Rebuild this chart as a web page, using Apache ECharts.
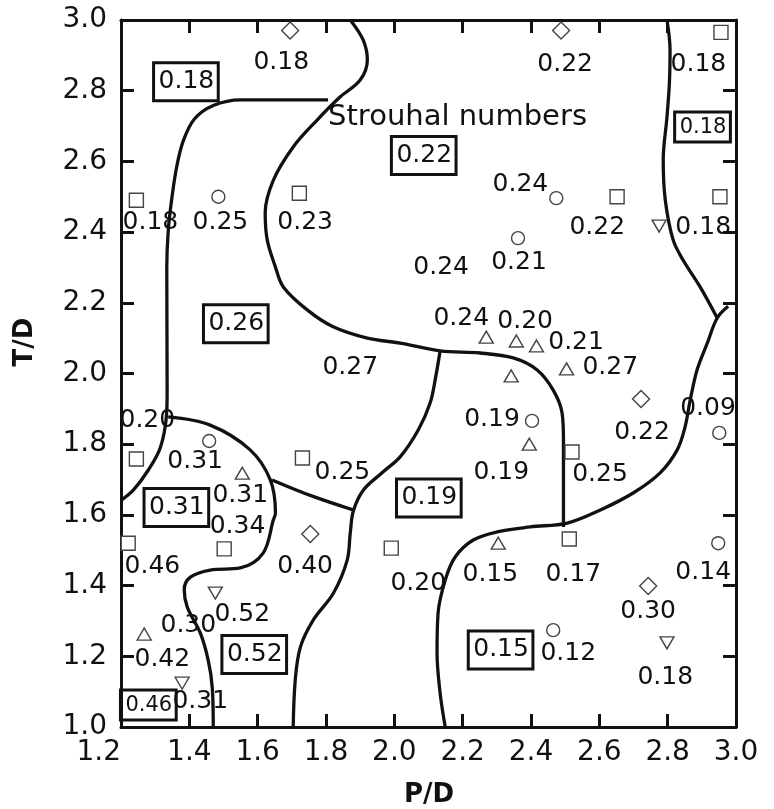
<!DOCTYPE html>
<html>
<head>
<meta charset="utf-8">
<script src="https://cdn.jsdelivr.net/npm/echarts@6/dist/echarts.min.js"></script>
<style>
  html, body { margin: 0; padding: 0; background: #fff; }
  #chart { width: 774px; height: 809px; }
</style>
</head>
<body>
<div id="chart"></div>
<script>
// Measured cylinder positions (P/D, T/D), grouped by marker shape
const squarePts = [[2.956,2.965],[1.245,2.49],[1.722,2.51],[2.652,2.50],[2.953,2.50],[2.520,1.778],[1.245,1.758],[1.731,1.761],[1.221,1.52],[1.502,1.504],[1.991,1.506],[2.512,1.532]];
const circlePts = [[1.485,2.50],[2.474,2.496],[2.362,2.383],[2.403,1.866],[2.951,1.832],[1.458,1.809],[2.948,1.52],[2.465,1.274]];
const trianglePts = [[2.269,2.103],[2.357,2.092],[2.416,2.078],[2.504,2.013],[2.342,1.993],[2.395,1.80],[1.555,1.718],[1.268,1.263],[2.304,1.52]];
const invTrianglePts = [[2.775,2.417],[1.476,1.379],[1.379,1.124],[2.798,1.238]];
const diamondPts = [[1.695,2.97],[2.488,2.97],[2.722,1.928],[1.754,1.546],[2.743,1.399]];

// Strouhal number written next to each measurement
const valueLabels = [
  [1.669,2.881,'0.18'],[2.500,2.873,'0.22'],[2.890,2.873,'0.18'],
  [1.286,2.426,'0.18'],[1.491,2.426,'0.25'],[1.739,2.426,'0.23'],
  [2.369,2.536,'0.24'],[2.594,2.414,'0.22'],[2.904,2.414,'0.18'],
  [2.365,2.315,'0.21'],[2.137,2.301,'0.24'],
  [2.196,2.157,'0.24'],[2.383,2.146,'0.20'],[2.532,2.089,'0.21'],[2.632,2.016,'0.27'],
  [2.286,1.871,'0.19'],[2.313,1.719,'0.19'],[2.602,1.713,'0.25'],[2.725,1.832,'0.22'],[2.918,1.900,'0.09'],
  [1.871,2.016,'0.27'],[1.277,1.868,'0.20'],[1.417,1.750,'0.31'],[1.549,1.656,'0.31'],[1.541,1.566,'0.34'],
  [1.848,1.719,'0.25'],[1.292,1.455,'0.46'],[1.739,1.453,'0.40'],[2.070,1.407,'0.20'],
  [1.555,1.317,'0.52'],[1.397,1.286,'0.30'],[1.321,1.192,'0.42'],[1.432,1.071,'0.31'],
  [2.281,1.430,'0.15'],[2.524,1.430,'0.17'],[2.904,1.436,'0.14'],[2.743,1.328,'0.30'],
  [2.509,1.209,'0.12'],[2.793,1.139,'0.18']
];

// Representative Strouhal number of each flow regime (boxed)
const zoneLabels = [
  [1.390,2.825,'0.18'],[2.086,2.617,'0.22'],[1.536,2.141,'0.26'],[1.362,1.621,'0.31'],
  [2.101,1.648,'0.19'],[1.590,1.205,'0.52'],[2.311,1.218,'0.15']
];
const zoneLabelsSmall = [[2.902,2.697,'0.18'],[1.280,1.062,'0.46']];

const noteLabel = [[2.185,2.723,'Strouhal numbers']];

// Regime boundaries
const boundaryA = [[1.806,2.774],[1.55,2.774],[1.47,2.758],[1.415,2.72],[1.383,2.66],[1.363,2.585],[1.348,2.49],[1.338,2.40],[1.334,2.30],[1.335,1.95],[1.333,1.88],[1.315,1.79],[1.28,1.727],[1.236,1.67],[1.201,1.642]];
const boundaryB = [[1.338,1.877],[1.461,1.854],[1.578,1.784],[1.637,1.699],[1.652,1.605],[1.646,1.586],[1.616,1.492],[1.549,1.450],[1.461,1.444],[1.403,1.424],[1.385,1.388],[1.394,1.339],[1.432,1.266],[1.455,1.190],[1.467,1.113],[1.470,1.0]];
const boundaryC = [[1.642,1.699],[1.760,1.653],[1.880,1.614]];
const boundaryD = [[1.871,3.0],[1.909,2.943],[1.921,2.887],[1.900,2.830],[1.841,2.782],[1.774,2.717],[1.704,2.641],[1.646,2.547],[1.622,2.454],[1.628,2.378],[1.652,2.301],[1.675,2.245],[1.745,2.180],[1.821,2.132],[1.921,2.100],[2.017,2.086],[2.134,2.064],[2.251,2.058],[2.348,2.044],[2.418,2.010],[2.465,1.953],[2.491,1.888],[2.495,1.812],[2.495,1.662],[2.495,1.566]];
const boundaryE = [[2.134,2.064],[2.121,1.99],[2.105,1.917],[2.07,1.84],[2.017,1.764],[1.965,1.72],[1.909,1.670],[1.880,1.611],[1.871,1.549],[1.862,1.472],[1.822,1.379],[1.763,1.303],[1.725,1.226],[1.710,1.133],[1.704,1.0]];
const boundaryF = [[2.798,3.0],[2.807,2.915],[2.805,2.821],[2.798,2.726],[2.787,2.604],[2.793,2.491],[2.816,2.378],[2.845,2.321],[2.895,2.245],[2.945,2.157]];
const boundaryG = [[2.977,2.19],[2.945,2.157],[2.916,2.086],[2.886,2.010],[2.866,1.925],[2.851,1.849],[2.828,1.784],[2.778,1.719],[2.699,1.662],[2.603,1.614],[2.506,1.577],[2.398,1.566],[2.301,1.552],[2.231,1.529],[2.178,1.481],[2.149,1.416],[2.128,1.322],[2.125,1.209],[2.134,1.096],[2.149,1.0]];

const FONT = 'DejaVu Sans';
const INK = '#111';
const MARK = '#444';

const chart = echarts.init(document.getElementById('chart'), null, { renderer: 'canvas' });

const axisCommon = {
  type: 'value',
  interval: 0.2,
  axisLine: { show: true, onZero: false, lineStyle: { color: INK, width: 3 } },
  axisTick: { show: true, inside: true, length: 13, lineStyle: { color: INK, width: 3 } },
  splitLine: { show: false }
};

function boundary(data) {
  return {
    type: 'line', data: data, smooth: 0.35, symbol: 'none', z: 3,
    lineStyle: { color: INK, width: 3.3 }, silent: true
  };
}

function markers(data, symbol, size, rotate) {
  return {
    type: 'scatter', data: data, symbol: symbol, symbolSize: size, symbolRotate: rotate || 0, z: 4,
    itemStyle: { color: '#fff', borderColor: MARK, borderWidth: 1.4, opacity: 1 }, silent: true
  };
}

function textSeries(data, label) {
  return {
    type: 'scatter', data: data, symbolSize: 1, z: 5, silent: true,
    itemStyle: { color: 'rgba(0,0,0,0)', opacity: 1 },
    label: Object.assign({ show: true, position: 'inside', opacity: 1, formatter: p => p.value[2] }, label)
  };
}

chart.setOption({
  animation: false,
  backgroundColor: '#fff',
  grid: { left: 121, right: 38, top: 20, bottom: 82 },
  xAxis: [
    Object.assign({}, axisCommon, {
      min: 1.2, max: 3.0, position: 'bottom',
      axisLabel: { margin: 12, color: INK, fontFamily: FONT, fontSize: 28, alignMinLabel: 'right', formatter: v => v.toFixed(1) }
    }),
    Object.assign({}, axisCommon, { min: 1.2, max: 3.0, position: 'top', axisLabel: { show: false } })
  ],
  yAxis: [
    Object.assign({}, axisCommon, {
      min: 1.0, max: 3.0, position: 'left',
      axisLabel: { margin: 14, color: INK, fontFamily: FONT, fontSize: 28, formatter: v => v.toFixed(1) }
    }),
    Object.assign({}, axisCommon, { min: 1.0, max: 3.0, position: 'right', axisLabel: { show: false } })
  ],
  graphic: [
    { type: 'text', left: 404, top: 782, style: { text: 'P/D', fontFamily: FONT, fontWeight: 'bold', fontSize: 26, fill: INK } },
    { type: 'text', x: 25, y: 342, rotation: Math.PI / 2,
      style: { text: 'T/D', fontFamily: FONT, fontWeight: 'bold', fontSize: 26, fill: INK, align: 'center', verticalAlign: 'middle' } }
  ],
  series: [
    boundary(boundaryA), boundary(boundaryB), boundary(boundaryC), boundary(boundaryD),
    boundary(boundaryE), boundary(boundaryF), boundary(boundaryG),
    markers(squarePts, 'rect', 14),
    markers(circlePts, 'circle', 13),
    markers(trianglePts, 'triangle', [14, 12]),
    markers(invTrianglePts, 'triangle', [14, 12], 180),
    markers(diamondPts, 'diamond', [17, 17]),
    textSeries(valueLabels, { color: INK, fontFamily: FONT, fontSize: 25 }),
    textSeries(zoneLabels, { color: INK, fontFamily: FONT, fontSize: 25, borderColor: INK, borderWidth: 3, padding: [7, 4, 6, 5] }),
    textSeries(zoneLabelsSmall, { color: INK, fontFamily: FONT, fontSize: 21, borderColor: INK, borderWidth: 3, padding: [5, 4, 4, 5] }),
    textSeries(noteLabel, { color: INK, fontFamily: FONT, fontSize: 29 })
  ]
});
</script>
</body>
</html>
